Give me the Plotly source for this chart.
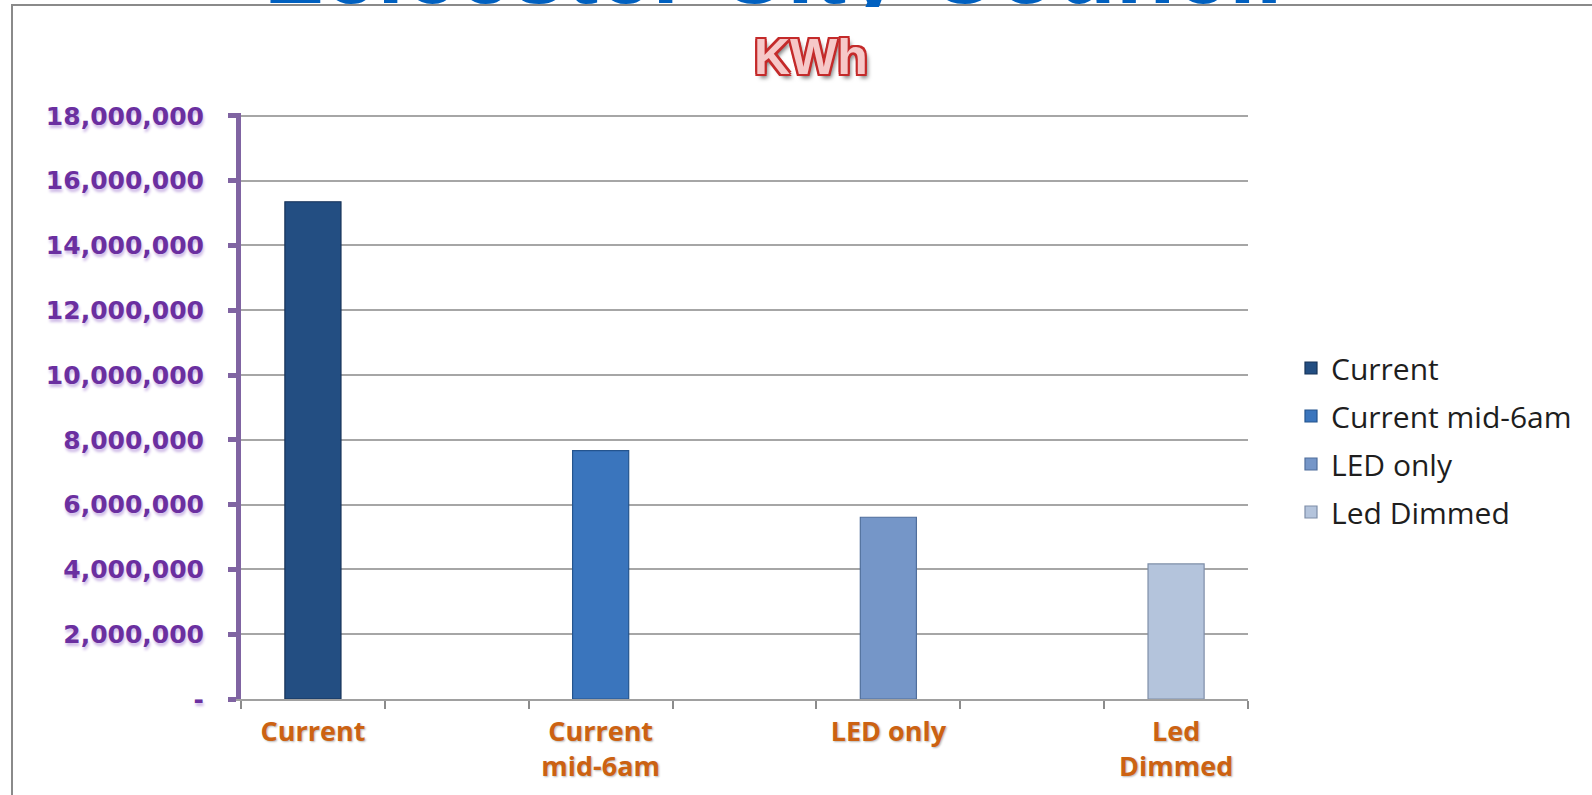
import plotly.graph_objects as go

# ---- data ----
series_names = ["Current", "Current mid-6am", "LED only", "Led Dimmed"]
x_labels = ["Current", "Current<br>mid-6am", "LED only", "Led<br>Dimmed"]
kwh_values = [15_350_000, 7_670_000, 5_610_000, 4_170_000]
y_tick_vals = [0, 2_000_000, 4_000_000, 6_000_000, 8_000_000, 10_000_000,
               12_000_000, 14_000_000, 16_000_000, 18_000_000]
y_tick_text = ["-", "2,000,000", "4,000,000", "6,000,000", "8,000,000", "10,000,000",
               "12,000,000", "14,000,000", "16,000,000", "18,000,000"]
page_title = "Leicester City Council"
chart_title = "KWh"

# ---- styles ----
bar_colors = ["#234e82", "#3a75bd", "#7596c8", "#b4c4dc"]
bar_lines = ["#163258", "#24548e", "#506e9c", "#7e8ea8"]
purple = "#6b2fa0"
axis_purple = "#8064a2"
orange = "#cc6212"

# category slots: blank spacer categories between the labelled ones
slots = []
for i, lab in enumerate(x_labels):
    slots.append(lab)
    if i < len(x_labels) - 1:
        slots.append(" " * (i + 1))

W, H = 1592, 795
L, R, T, B = 241, 344, 113, 96
PW, PH = W - L - R, H - T - B


def px_x(px):
    return (px - L) / PW


def px_y(py):
    return (H - B - py) / PH


fig = go.Figure()
for i, name in enumerate(series_names):
    fig.add_trace(go.Bar(
        x=[x_labels[i]], y=[kwh_values[i]], name=name,
        legendgroup=name, width=0.39,
        marker=dict(color=bar_colors[i], line=dict(color=bar_lines[i], width=1.2)),
    ))

outline = "#c42a2a"
kwh_shadow = ", ".join(
    f"{dx}px {dy}px 0 {outline}" for dx, dy in
    [(-2, -2), (2, -2), (-2, 2), (2, 2), (0, -2), (0, 2), (-2, 0), (2, 0)]
) + ", 3px 4px 4px #777777"

fig.update_layout(
    width=W, height=H, autosize=False,
    margin=dict(l=L, r=R, t=T, b=B, pad=0),
    paper_bgcolor="white", plot_bgcolor="white",
    barmode="overlay",
    showlegend=True,
    legend=dict(
        x=px_x(1291), xanchor="left", y=px_y(440), yanchor="middle",
        font=dict(family="Open Sans", size=30, color="#1e1e1e"),
        traceorder="grouped", tracegroupgap=6,
        bgcolor="rgba(0,0,0,0)",
    ),
    xaxis=dict(
        type="category", categoryorder="array", categoryarray=slots,
        tickmode="array", tickvals=slots, ticktext=slots,
        tickson="boundaries", ticks="outside", ticklen=8, tickwidth=1.5,
        tickcolor="#8c8c8c",
        showline=True, linecolor="#a0a0a0", linewidth=1.5,
        showgrid=False, zeroline=False,
        ticklabelstandoff=8,
        tickfont=dict(family="Open Sans", size=27, color=orange,
                      weight="bold", shadow="1px 1px 2px #b8b8b8"),
        range=[-0.5, len(slots) - 0.5],
    ),
    yaxis=dict(
        range=[0, 18_090_000],
        tickmode="array", tickvals=y_tick_vals, ticktext=y_tick_text,
        ticks="outside", ticklen=8, tickwidth=5, tickcolor=axis_purple,
        showline=True, linecolor=axis_purple, linewidth=5,
        showgrid=True, gridcolor="#a6a6a6", gridwidth=1.5,
        zeroline=False,
        ticklabelstandoff=19,
        tickfont=dict(family="DejaVu Sans", size=25, color=purple,
                      weight="bold", shadow="1px 3px 3px #cdb8e6"),
    ),
    shapes=[
        dict(type="rect", xref="paper", yref="paper",
             x0=px_x(12), x1=px_x(1700), y0=px_y(900), y1=px_y(5),
             line=dict(color="#8a8a8a", width=2), fillcolor="rgba(0,0,0,0)",
             layer="below"),
    ],
    annotations=[
        dict(text=page_title, xref="paper", yref="paper",
             x=px_x(773), y=px_y(26), xanchor="center", yanchor="bottom",
             showarrow=False,
             font=dict(family="Liberation Sans", size=97, color="#0060c0",
                       weight="bold")),
        dict(text=" ", xref="paper", yref="paper",
             x=px_x(773), y=px_y(7), xanchor="center", yanchor="top",
             width=1150, height=28, bgcolor="white", borderwidth=0,
             showarrow=False),
        dict(text=chart_title, xref="paper", yref="paper",
             x=px_x(811), y=px_y(57), xanchor="center", yanchor="middle",
             showarrow=False,
             font=dict(family="Liberation Sans", size=50, color="#f6c8c8",
                       weight="bold", shadow=kwh_shadow)),
    ],
)

fig.write_html("out.html")
